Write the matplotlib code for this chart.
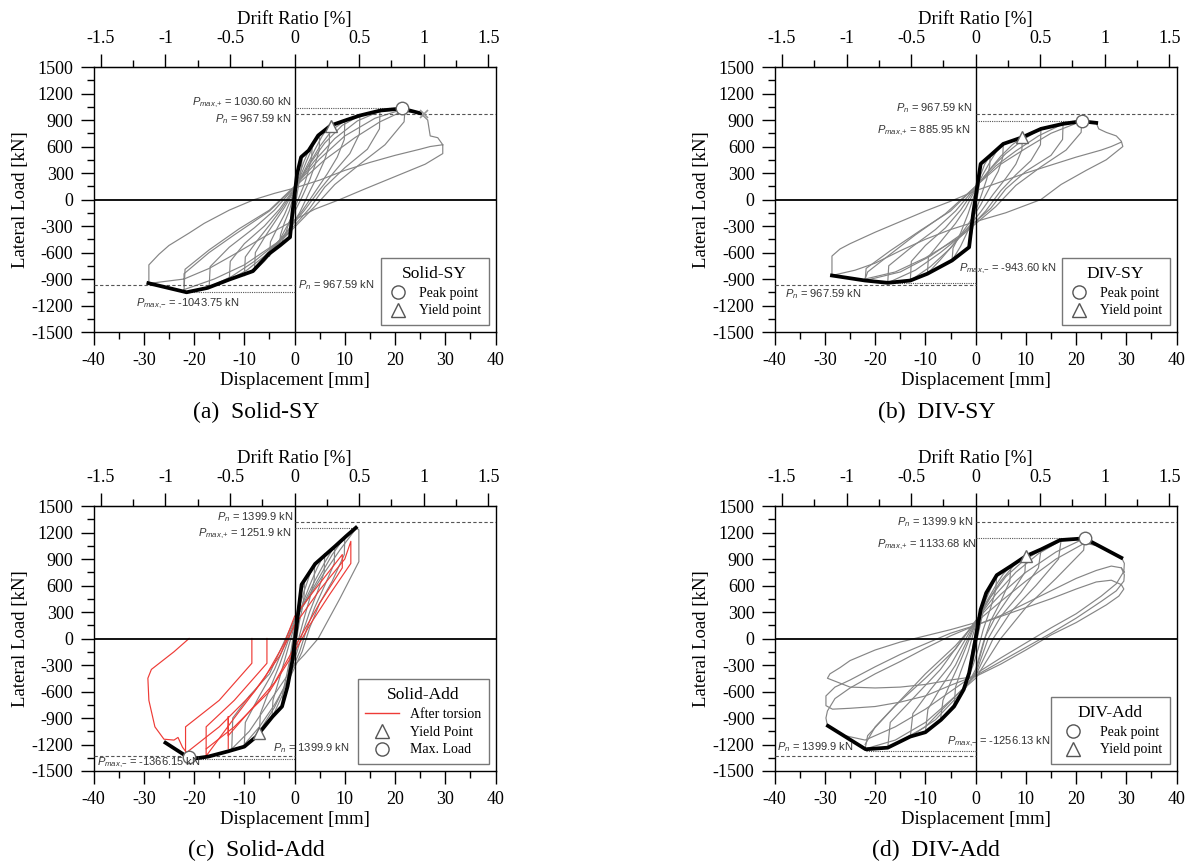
import matplotlib
matplotlib.use('Agg')
import matplotlib.pyplot as plt
from matplotlib.lines import Line2D
import numpy as np

plt.rcParams['font.family'] = 'Liberation Serif'
plt.rcParams['mathtext.fontset'] = 'custom'
plt.rcParams['mathtext.it'] = 'Liberation Sans:italic'
plt.rcParams['mathtext.rm'] = 'Liberation Sans'
plt.rcParams['axes.unicode_minus'] = False

GREY = '#858585'
RED = '#ee3b36'
WALL_H = 2570.0  # mm, used for drift ratio axis

# ---------------- (a) Solid-SY ----------------
a_env_disp = [-29.1, -21.5, -17.3, -13.0, -8.3, -5.1, -2.9, -0.9, -0.45, 0.5, 1.3, 2.8, 4.7, 7.2, 10.0, 13.0, 17.1, 21.4, 25.0]
a_env_load = [-947, -1050, -1000, -906, -811, -615, -520, -426, -162, 290, 480, 555, 725, 838, 894, 951, 1008, 1030, 977]
a_peak = (21.4, 1030.6)
a_yield = (7.2, 838)
a_loops = [
    [(-1, -420), (-0.7, -250), (-0.3, -50), (0, 100), (0.5, 260), (1, 400), (1.5, 480), (1.4, 380), (1, 230), (0.5, 60), (0, -120), (-0.5, -300), (-1, -420)],
    [(-3, -530), (-2.8, -400), (-2, -260), (-1, -120), (0, 90), (0.8, 250), (1.8, 420), (2.7, 540), (3.5, 600), (3.4, 480), (2.8, 330), (2, 180),
     (1, 40), (0, -100), (-1.2, -280), (-2, -420), (-3, -530)],
    [(-5, -640), (-4.8, -480), (-3.5, -330), (-2, -170), (0, 100), (1.2, 270), (2.5, 450), (3.8, 620), (5, 720), (4.9, 560), (4, 380), (3, 220),
     (1.5, 30), (0, -140), (-1.5, -300), (-3, -460), (-5, -640)],
    [(-8, -810), (-7.8, -600), (-6, -430), (-4, -260), (-2, -90), (0, 110), (2, 330), (4, 560), (5.5, 720), (7, 840), (6.9, 620), (6, 450),
     (4.5, 260), (3, 90), (1, -150), (-1, -330), (-4, -560), (-6, -700), (-8, -810)],
    [(-10, -860), (-9.8, -650), (-7.5, -470), (-5, -290), (-2.5, -100), (0, 120), (2.5, 360), (5, 600), (7.5, 790), (10, 890), (9.9, 680),
     (8.5, 480), (6.5, 290), (4, 80), (1.5, -130), (-1.5, -360), (-5, -600), (-7.5, -760), (-10, -860)],
    [(-13, -910), (-12.8, -700), (-10, -500), (-6, -300), (-3, -110), (0, 130), (3, 400), (6, 640), (9.5, 840), (13, 950), (12.9, 740),
     (11, 520), (8, 320), (5, 110), (2, -120), (-2, -400), (-6, -640), (-9.5, -800), (-13, -910)],
    [(-17, -990), (-16.8, -760), (-13, -540), (-8, -320), (-4, -120), (0, 140), (4, 440), (8, 690), (12.5, 890), (17, 1000), (16.9, 800),
     (14.5, 570), (10, 360), (6, 140), (3, -100), (-2, -420), (-8, -700), (-12.5, -870), (-17, -990)],
    [(-22, -1020), (-21.8, -790), (-17, -570), (-11, -330), (-5, -120), (0, 150), (5, 460), (10, 720), (16, 920), (22, 1030), (21.8, 880),
     (18, 620), (13, 400), (8, 170), (4, -80), (-2, -430), (-10, -740), (-16, -900), (-22, -1020)],
    [(-22, -980), (-22, -840), (-17, -600), (-12, -400), (-5, -130), (0, 140), (6, 450), (12, 700), (17, 880), (21.5, 1000), (25, 980),
     (26.5, 900), (27, 720), (28.5, 700), (29.5, 620), (29.5, 520), (26, 400), (20, 260), (14, 120), (9, 0), (4, -110), (0, -230),
     (-6, -420), (-12, -620), (-17, -780), (-22, -900), (-29, -950), (-29, -740), (-27, -620), (-25, -520), (-21, -380), (-18, -270),
     (-13, -120), (-8, 0), (-4, 70), (0, 130), (5, 220), (10, 330), (15, 420), (20, 500), (25, 570), (27, 600), (29.5, 620)],
]
a_texts = [(-0.6, 1100, '$P_{max{,}{+}}$ = 1030.60 kN', 'right'), (-0.6, 913, '$P_n$ = 967.59 kN', 'right'),
           (0.7, -965, '$P_n$ = 967.59 kN', 'left'), (-31.5, -1181, '$P_{max{,}{-}}$ = -1043.75 kN', 'left')]
a_pn = (967.59, -967.59)
a_pmax = ((21.4, 1030.6), (-21.5, -1050))

# ---------------- (b) DIV-SY ----------------
b_env_disp = [-28.6, -22.0, -17.5, -13.0, -9.6, -4.7, -1.3, -0.5, 1.0, 2.9, 5.5, 9.3, 13.0, 17.4, 21.1, 24.0]
b_env_load = [-860, -917, -943, -917, -840, -690, -540, -160, 404, 498, 630, 705, 800, 857, 886, 868]
b_peak = (21.1, 885.95)
b_yield = (9.3, 705)
b_loops = [
    [(-1.3, -540), (-1, -380), (-0.5, -150), (0, 50), (0.4, 220), (0.8, 350), (1, 400), (0.9, 250), (0.5, 80), (0, -80), (-0.6, -330), (-1.3, -540)],
    [(-4.7, -690), (-4.5, -550), (-3, -380), (-1.5, -160), (0, 100), (0.8, 250), (1.8, 400), (2.9, 500), (2.8, 380), (2.2, 230), (1.2, 60),
     (0, -130), (-1.5, -350), (-3, -530), (-4.7, -690)],
    [(-9.6, -840), (-9.4, -650), (-7, -480), (-4, -270), (-2, -100), (0, 120), (1.5, 290), (3, 440), (4.3, 560), (5.5, 630), (5.4, 480),
     (4.5, 320), (3, 160), (1, -60), (-1.5, -280), (-4, -480), (-7, -680), (-9.6, -840)],
    [(-13, -917), (-12.8, -700), (-10, -520), (-6, -320), (-3, -120), (0, 130), (2.5, 320), (5, 490), (7.3, 620), (9.3, 705), (9.2, 560),
     (8, 400), (6, 240), (3.5, 60), (1, -140), (-2, -350), (-5, -550), (-9, -760), (-13, -917)],
    [(-17.5, -943), (-17.3, -750), (-13, -550), (-8, -340), (-4, -130), (0, 140), (3, 350), (6, 520), (9.5, 680), (13, 800), (12.9, 620),
     (11, 440), (8, 280), (5, 100), (2, -130), (-2, -370), (-7, -600), (-12, -800), (-17.5, -943)],
    [(-22, -917), (-21.8, -780), (-17, -580), (-11, -350), (-5, -130), (0, 150), (4, 380), (8, 550), (12.5, 720), (17.4, 857), (17.3, 680),
     (15, 500), (10, 320), (6, 120), (3, -100), (-3, -400), (-9, -640), (-15, -820), (-22, -917)],
    [(-22, -900), (-21.5, -820), (-17, -620), (-12, -400), (-6, -160), (0, 150), (5, 400), (10, 580), (15, 750), (21.1, 887), (21, 760),
     (18, 560), (13, 370), (8, 160), (4, -80), (-3, -420), (-10, -660), (-16, -820), (-22, -900)],
    [(21.1, 887), (24, 868), (24.5, 800), (26, 760), (28, 720), (29, 660), (29.3, 600), (26, 450), (22, 330), (17, 170), (13, 0), (6, -150),
     (0, -250), (-5, -340), (-10, -450), (-15, -580), (-20, -720), (-24, -800), (-28.6, -860), (-28.6, -640), (-27, -560), (-25, -500),
     (-20, -370), (-15, -250), (-10, -130), (-5, -20), (0, 100), (5, 200), (10, 300), (15, 390), (20, 480), (25, 560), (27, 600), (29, 650)],
]
b_texts = [(-0.7, 1038, '$P_n$ = 967.59 kN', 'right'), (-0.9, 781, '$P_{max{,}{+}}$ = 885.95 kN', 'right'),
           (-3.4, -785, '$P_{max{,}{-}}$ = -943.60 kN', 'left'), (-37.9, -1068, '$P_n$ = 967.59 kN', 'left')]
b_pn = (967.59, -967.59)
b_pmax = ((21.1, 885.95), (-17.5, -943.6))

# ---------------- (c) Solid-Add ----------------
c_env_disp = [-25.7, -21.7, -19.6, -17.2, -13.4, -10.0, -7.6, -4.4, -2.5, -1.4, -0.4, 1.4, 4.1, 8.1, 10.3, 12.2]
c_env_load = [-1180, -1327, -1357, -1337, -1280, -1224, -1110, -885, -770, -543, -240, 611, 845, 1046, 1160, 1254]
c_peak = (-21.0, -1345)
c_yield = (-7.0, -1075)
c_loops = [
    [(-1.5, -550), (-1.3, -400), (-0.8, -220), (-0.4, -80), (0, 100), (0.5, 300), (1, 450), (1.5, 560), (2, 620), (1.9, 480), (1.5, 330),
     (1, 200), (0.5, 30), (0, -150), (-0.5, -300), (-1, -450), (-1.5, -550)],
    [(-2.5, -770), (-2.3, -600), (-1.6, -420), (-1, -250), (0, 120), (0.8, 330), (2, 550), (3, 720), (4, 850), (3.9, 650), (3, 450), (2, 250),
     (1, 40), (0, -200), (-0.8, -380), (-1.5, -550), (-2.5, -770)],
    [(-4.5, -900), (-4.3, -700), (-3, -450), (-2, -250), (0, 150), (1.5, 380), (3, 600), (4.5, 800), (6, 960), (5.9, 750), (4.5, 520),
     (3, 300), (1.5, 50), (0.5, -150), (-1, -380), (-2.5, -650), (-4.5, -900)],
    [(-7, -1050), (-6.8, -850), (-5, -580), (-3, -300), (0, 180), (2, 420), (4, 650), (6, 860), (8, 1050), (7.9, 850), (6, 600), (4, 350),
     (2.5, 120), (1, -150), (-1, -420), (-4, -780), (-7, -1050)],
    [(-10, -1200), (-9.8, -950), (-7, -650), (-4, -350), (0, 200), (2.5, 450), (5, 700), (7.5, 950), (10, 1150), (9.9, 950), (7.5, 650),
     (5, 400), (3, 120), (1.5, -150), (-1, -450), (-4, -750), (-7, -1000), (-10, -1200)],
    [(-12.5, -1250), (-12.3, -900), (-9, -650), (-5, -400), (0, 220), (3, 480), (6, 750), (9, 1000), (12.3, 1250), (12.8, 1230),
     (12.8, 870), (9, 450), (4.7, 0), (2, -180), (0, -300), (-3, -550), (-6, -800), (-9, -1050), (-12.5, -1250)],
]
c_red_loops = [
    [(-21, 0), (-24, -150), (-28.5, -350), (-29.2, -450), (-29, -700), (-27.8, -1000), (-26, -1140), (-24, -1150), (-23.2, -1120),
     (-22.3, -1232), (-21.5, -1290)],
    [(-8.5, 0), (-8.5, -280), (-15, -700), (-21.7, -1000), (-21.7, -1300), (-15, -1000), (-8, -600), (-3, -200), (0, 150), (5, 550),
     (10, 900), (11.2, 1100), (11.2, 850), (7, 500), (3, 150), (0, -150), (-5, -600), (-12, -1000), (-17.6, -1250)],
    [(-5.5, 0), (-5.5, -280), (-12, -700), (-17.6, -1000), (-17.6, -1330), (-12, -900), (-6, -450), (-2, -50), (0, 250), (4, 550),
     (9.5, 950), (9.5, 800), (5, 400), (1, 0), (-4, -500), (-13.2, -1100), (-13.2, -885), (-13.2, -1245)],
]
c_texts = [(-0.3, 1380, '$P_n$ = 1399.9 kN', 'right'), (-0.6, 1186, '$P_{max{,}{+}}$ = 1251.9 kN', 'right'),
           (-4.2, -1243, '$P_n$ = 1399.9 kN', 'left'), (-39.4, -1413, '$P_{max{,}{-}}$ = -1366.15 kN', 'left')]
c_pn = (1320, -1330)
c_pmax = ((12.2, 1251.9), (-21.0, -1366.15))

# ---------------- (d) DIV-Add ----------------
d_env_disp = [-29.4, -21.9, -17.5, -13.0, -10.0, -6.9, -4.3, -2.4, -1.3, 0.0, 1.0, 2.1, 4.2, 7.0, 10.0, 13.0, 16.8, 21.7, 29.0]
d_env_load = [-989, -1254, -1236, -1110, -1061, -921, -770, -580, -391, 0, 327, 516, 717, 819, 933, 1008, 1114, 1134, 914]
d_peak = (21.7, 1133.68)
d_yield = (10.0, 933)
d_loops = [
    [(-1.3, -390), (-1, -250), (0, 100), (1, 330), (2, 520), (1.8, 380), (0.5, 50), (-0.5, -250), (-1.3, -390)],
    [(-4.3, -770), (-4, -550), (-3, -380), (-1.5, -150), (0, 150), (1.2, 330), (2.5, 500), (3.5, 630), (4.2, 720), (4, 550), (3, 350),
     (1.5, 100), (0.5, -120), (-0.5, -300), (-2.5, -600), (-4.3, -770)],
    [(-7, -920), (-6.5, -700), (-5, -500), (-3, -250), (0, 170), (2, 400), (4, 600), (5.5, 730), (7, 820), (6.8, 650), (5, 420), (3, 200),
     (1.5, -50), (0, -350), (-2, -560), (-4.5, -760), (-7, -920)],
    [(-10, -1060), (-9.5, -800), (-7, -560), (-4, -300), (0, 180), (2.5, 430), (5, 650), (7.5, 820), (10, 940), (9.8, 750), (7, 500),
     (4, 250), (2, 30), (0, -380), (-2.5, -600), (-6, -880), (-10, -1060)],
    [(-13, -1110), (-12.5, -850), (-9, -580), (-5, -300), (0, 190), (3, 470), (6, 700), (9.5, 880), (13, 1000), (12.5, 800), (9, 520),
     (5, 250), (2.5, 0), (0, -400), (-3, -620), (-8, -920), (-13, -1110)],
    [(-17.5, -1240), (-17, -950), (-12, -650), (-7, -350), (0, 200), (4, 500), (8, 750), (12.5, 960), (17, 1110), (16.5, 900), (12, 600),
     (7, 300), (3.5, 0), (0, -420), (-4, -650), (-10, -1000), (-17.5, -1240)],
    [(-22, -1250), (-21.5, -1100), (-16, -760), (-10, -450), (-4, -120), (0, 200), (5, 500), (10, 750), (16, 980), (21.7, 1134),
     (21.5, 1000), (16, 680), (10, 350), (5, 0), (0, -450), (-5, -700), (-10, -950), (-16, -1150), (-22, -1250)],
    [(-22, -1200), (-20, -1000), (-15, -700), (-10, -400), (-4, -80), (0, 180), (5, 420), (10, 650), (16, 900), (21.7, 1080), (25, 1040),
     (29, 920)],
    [(29, 920), (29.6, 850), (29.5, 760), (28, 620), (25, 480), (20, 280), (15, 120), (10, -50), (5, -220), (0, -400), (-5, -600),
     (-10, -800), (-16, -1000), (-22, -1150), (-26, -1100), (-29.5, -990), (-29.8, -900), (-29.5, -820), (-28, -680), (-25, -560),
     (-20, -400), (-15, -260), (-10, -110), (-5, 30), (0, 150), (5, 260), (10, 400), (15, 540), (20, 680), (24, 770), (27, 820),
     (29, 800), (29.6, 750)],
    [(29, 800), (29.6, 720), (29.5, 650), (28, 540), (25, 420), (20, 230), (15, 60), (10, -100), (5, -260), (0, -420), (-5, -530),
     (-10, -650), (-15, -720), (-20, -770), (-25, -790), (-28.5, -800), (-29.8, -760), (-29.8, -650), (-28, -550), (-25, -470),
     (-20, -320), (-15, -180), (-10, -60), (-5, 60), (0, 150), (5, 250), (10, 350), (15, 450), (20, 560), (24, 640), (27, 660), (29, 610)],
    [(29, 610), (29.5, 560), (28.5, 480), (26, 380), (20, 180), (15, 40), (10, -130), (5, -290), (0, -430), (-5, -470), (-10, -520),
     (-15, -550), (-20, -560), (-25, -550), (-29.5, -450), (-29, -400), (-27, -330), (-25, -250), (-20, -130), (-15, -40), (-10, 30),
     (-5, 100), (0, 180)],
]
d_texts = [(-0.5, 1322, '$P_n$ = 1399.9 kN', 'right'), (0.2, 1057, '$P_{max{,}{+}}$ = 1133.68 kN', 'right'),
           (-5.8, -1167, '$P_{max{,}{-}}$ = -1256.13 kN', 'left'), (-39.5, -1224, '$P_n$ = 1399.9 kN', 'left')]
d_pn = (1320, -1330)
d_pmax = ((21.7, 1133.68), (-21.9, -1268))


def to_drift(d):
    return d / WALL_H * 100


def to_disp(r):
    return r * WALL_H / 100


def setup(ax):
    ax.set_xlim(-40, 40)
    ax.set_ylim(-1500, 1500)
    ax.set_xticks(np.arange(-40, 41, 10))
    ax.set_xticks(np.arange(-35, 40, 10), minor=True)
    ax.set_yticks(np.arange(-1500, 1501, 300))
    ax.set_yticks(np.arange(-1350, 1500, 300), minor=True)
    ax.tick_params(which='major', direction='out', length=9.5, width=1, labelsize=13, pad=5)
    ax.tick_params(which='minor', direction='out', length=5, width=1)
    for s in ax.spines.values():
        s.set_linewidth(1.0)
    ax.axhline(0, color='black', lw=1.3, zorder=3)
    ax.axvline(0, color='black', lw=1.0, zorder=3)
    ax.set_xlabel('Displacement [mm]', fontsize=13.5, labelpad=2)
    ax.set_ylabel('Lateral Load [kN]', fontsize=13.5, labelpad=2)
    sec = ax.secondary_xaxis('top', functions=(to_drift, to_disp))
    sec.set_xticks([-1.5, -1, -0.5, 0, 0.5, 1, 1.5], ['-1.5', '-1', '-0.5', '0', '0.5', '1', '1.5'])
    sec.set_xticks([-1.25, -0.75, -0.25, 0.25, 0.75, 1.25], minor=True)
    sec.tick_params(which='major', direction='out', length=9.5, width=1, labelsize=13, pad=5)
    sec.tick_params(which='minor', direction='out', length=5, width=1)
    sec.set_xlabel('Drift Ratio [%]', fontsize=13.5, labelpad=4)


def draw(ax, loops, env_x, env_y, peak, yld, texts, pn, pmax, red_loops=None):
    setup(ax)
    for lp in loops:
        xs, ys = zip(*lp)
        ax.plot(xs, ys, color=GREY, lw=0.85, zorder=2)
    if red_loops:
        for lp in red_loops:
            xs, ys = zip(*lp)
            ax.plot(xs, ys, color=RED, lw=0.85, zorder=2.5)
    ax.plot(env_x, env_y, color='black', lw=2.7, zorder=4, solid_joinstyle='round')
    # reference lines
    ax.plot([0, 40], [pn[0], pn[0]], color='#555', lw=0.8, ls=(0, (3, 2)), zorder=3)
    ax.plot([-40, 0], [pn[1], pn[1]], color='#555', lw=0.8, ls=(0, (3, 2)), zorder=3)
    ax.plot([0, pmax[0][0]], [pmax[0][1], pmax[0][1]], color='#555', lw=0.8, ls=(0, (1, 1)), zorder=3)
    ax.plot([pmax[1][0], 0], [pmax[1][1], pmax[1][1]], color='#555', lw=0.8, ls=(0, (1, 1)), zorder=3)
    ax.plot(*peak, 'o', ms=9, mfc='white', mec='#666', mew=1, zorder=5)
    ax.plot(*yld, '^', ms=9, mfc='white', mec='#666', mew=1, zorder=5)
    for x, y, s, ha in texts:
        ax.text(x, y, s, ha=ha, va='center', fontsize=8, color='#333', family='Liberation Sans', zorder=6)


def legend(ax, title, items, hl=1.4):
    handles = []
    for kind, lab in items:
        if kind == 'line':
            handles.append(Line2D([], [], color=RED, lw=1, label=lab))
        else:
            handles.append(Line2D([], [], ls='none', marker=kind, ms=9.5, mfc='white', mec='#555', mew=1, label=lab))
    lg = ax.legend(handles=handles, title=title, loc='lower right', fontsize=10, title_fontsize=12.5,
                   frameon=True, fancybox=False, edgecolor='#555', borderaxespad=0.5,
                   handlelength=hl, handletextpad=0.8, labelspacing=0.35, borderpad=0.55)
    lg.get_frame().set_linewidth(1.0)
    lg.set_zorder(10)


fig = plt.figure(figsize=(11.88, 8.66), dpi=100)
W, H = 0.3383, 0.306
ax_a = fig.add_axes([0.0788, 0.6166, W, H])
ax_b = fig.add_axes([0.6521, 0.6166, W, H])
ax_c = fig.add_axes([0.0788, 0.1097, W, H])
ax_d = fig.add_axes([0.6521, 0.1097, W, H])

draw(ax_a, a_loops, a_env_disp, a_env_load, a_peak, a_yield, a_texts, a_pn, a_pmax)
ax_a.plot(25.8, 970, marker='x', ms=6, color='#999', mew=1.2, zorder=5)
legend(ax_a, 'Solid-SY', [('o', 'Peak point'), ('^', 'Yield point')])

draw(ax_b, b_loops, b_env_disp, b_env_load, b_peak, b_yield, b_texts, b_pn, b_pmax)
legend(ax_b, 'DIV-SY', [('o', 'Peak point'), ('^', 'Yield point')])

draw(ax_c, c_loops, c_env_disp, c_env_load, c_peak, c_yield, c_texts, c_pn, c_pmax, red_loops=c_red_loops)
legend(ax_c, 'Solid-Add', [('line', 'After torsion'), ('^', 'Yield Point'), ('o', 'Max. Load')], hl=2.4)

draw(ax_d, d_loops, d_env_disp, d_env_load, d_peak, d_yield, d_texts, d_pn, d_pmax)
legend(ax_d, 'DIV-Add', [('o', 'Peak point'), ('^', 'Yield point')], hl=2.2)

fig.text(193 / 1188, 0.524, '(a)  Solid-SY', fontsize=17, va='center')
fig.text(878 / 1188, 0.524, '(b)  DIV-SY', fontsize=17, va='center')
fig.text(188 / 1188, 0.0185, '(c)  Solid-Add', fontsize=17, va='center')
fig.text(872 / 1188, 0.0185, '(d)  DIV-Add', fontsize=17, va='center')

fig.savefig('out.png', dpi=100)
